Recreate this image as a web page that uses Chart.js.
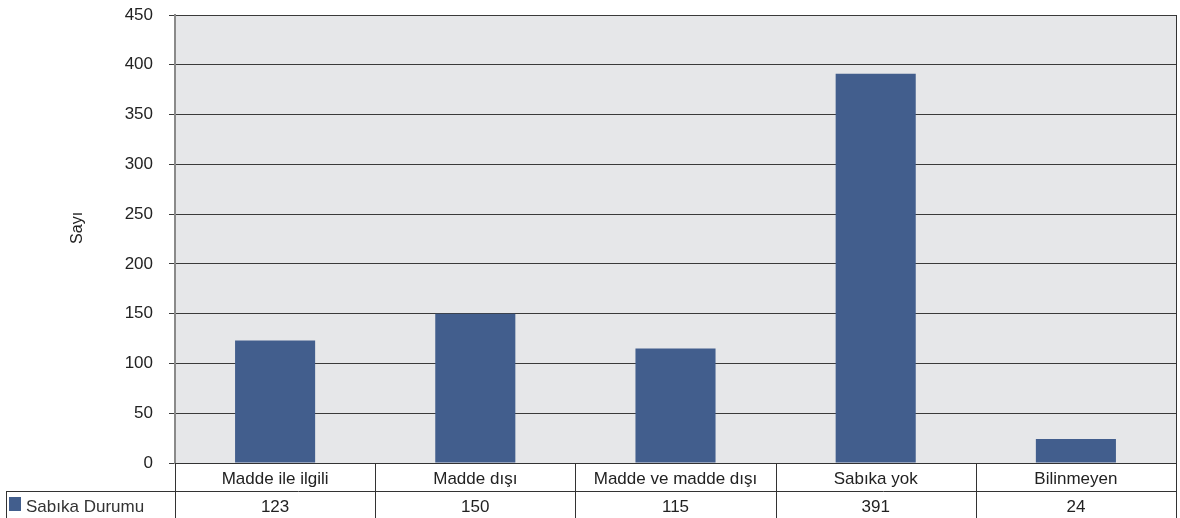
<!DOCTYPE html>
<html>
<head>
<meta charset="utf-8">
<script src="https://cdn.jsdelivr.net/npm/chart.js@4.4.1/dist/chart.umd.min.js"></script>
<style>
  html, body { margin: 0; padding: 0; background: #fff; }
  #wrap { width: 1180px; height: 518px; position: relative; }
</style>
</head>
<body>
<div id="wrap"><canvas id="chart"></canvas></div>
<script>
// Data
const categories = ['Madde ile ilgili', 'Madde dışı', 'Madde ve madde dışı', 'Sabıka yok', 'Bilinmeyen'];
const seriesName = 'Sabıka Durumu';
const seriesValues = [123, 150, 115, 391, 24];
const yTicks = [0, 50, 100, 150, 200, 250, 300, 350, 400, 450];

const FONT = '"Liberation Sans", Arial, Helvetica, sans-serif';
const BAR_COLOR = '#425e8d';
const TEXT_COLOR = '#222';

// Plot background + data table under the x axis
const tablePlugin = {
    id: 'dataTable',
    beforeDraw(chart) {
        const a = chart.chartArea;
        const ctx = chart.ctx;
        ctx.save();
        ctx.fillStyle = '#e6e7e9';
        ctx.fillRect(a.left, a.top, a.right - a.left, a.bottom - a.top);
        ctx.restore();
    },
    afterDraw(chart) {
        const a = chart.chartArea;
        const ctx = chart.ctx;
        const x = chart.scales.x;
        const n = categories.length;
        const step = (a.right - a.left) / n;
        const rowH = 28;
        const row2Top = a.bottom + rowH;
        const bottom = chart.height;

        ctx.save();
        ctx.strokeStyle = '#333';
        ctx.lineWidth = 1;

        // row separator
        ctx.beginPath();
        ctx.moveTo(6, row2Top + 0.5);
        ctx.lineTo(a.right, row2Top + 0.5);
        ctx.stroke();

        // legend cell left border
        ctx.beginPath();
        ctx.moveTo(6.5, row2Top);
        ctx.lineTo(6.5, bottom);
        ctx.stroke();

        // column separators
        for (let i = 0; i <= n; i++) {
            const px = Math.round(a.left + i * step) + 0.5;
            ctx.beginPath();
            ctx.moveTo(px, i === n ? a.top : a.bottom);
            ctx.lineTo(px, bottom);
            ctx.stroke();
        }

        // legend key
        ctx.fillStyle = BAR_COLOR;
        ctx.fillRect(9, row2Top + 6, 12, 14);
        ctx.fillStyle = '#333';
        ctx.font = '17px ' + FONT;
        ctx.textAlign = 'left';
        ctx.textBaseline = 'middle';
        ctx.fillText(seriesName, 26, row2Top + 16);

        // values
        ctx.fillStyle = TEXT_COLOR;
        ctx.textAlign = 'center';
        seriesValues.forEach((v, i) => {
            ctx.fillText(String(v), x.getPixelForValue(i), row2Top + 16);
        });
        ctx.restore();
    }
};

new Chart(document.getElementById('chart'), {
    type: 'bar',
    data: {
        labels: categories,
        datasets: [{
            label: seriesName,
            data: seriesValues,
            backgroundColor: BAR_COLOR,
            borderWidth: 0,
            categoryPercentage: 1.0,
            barPercentage: 0.4
        }]
    },
    options: {
        responsive: true,
        maintainAspectRatio: false,
        animation: false,
        layout: { padding: { top: 0, right: 4, left: 0, bottom: 0 } },
        plugins: {
            legend: { display: false },
            tooltip: { enabled: false }
        },
        scales: {
            x: {
                afterFit(scale) { scale.height = 55; },
                grid: { display: false },
                border: { color: '#333', width: 1 },
                ticks: {
                    color: TEXT_COLOR,
                    font: { family: FONT, size: 17, lineHeight: 1 },
                    padding: 0,
                    maxRotation: 0,
                    autoSkip: false
                }
            },
            y: {
                min: 0,
                max: 450,
                afterFit(scale) {
                    scale.width = 175;
                    scale.paddingTop = 15;
                    scale.paddingBottom = 0;
                },
                afterBuildTicks(scale) { scale.ticks = yTicks.map(v => ({ value: v })); },
                grid: { color: '#3a3a3a', lineWidth: 1, tickLength: 6 },
                border: { color: '#8a8a8a', width: 2 },
                ticks: {
                    color: TEXT_COLOR,
                    font: { family: FONT, size: 17, lineHeight: 1 },
                    padding: 16
                },
                title: {
                    display: true,
                    text: '     Sayı',
                    color: TEXT_COLOR,
                    font: { family: FONT, size: 16 },
                    padding: { top: 68, bottom: 0 }
                }
            }
        }
    },
    plugins: [tablePlugin]
});
</script>
</body>
</html>
